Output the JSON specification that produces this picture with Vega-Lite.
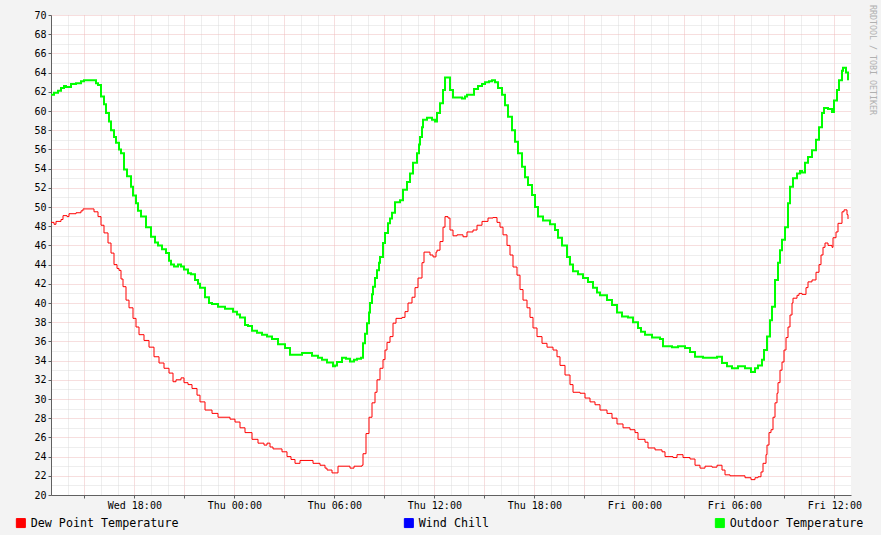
{
"$schema": "https://vega.github.io/schema/vega-lite/v6.json",
"width": 800, "height": 480,
"autosize": {"type": "none"},
"padding": {"left": 51, "top": 15, "right": 30, "bottom": 40},
"background": "#f3f3f3",
"config": {"view": {"fill": "#ffffff", "stroke": null}, "font": "DejaVu Sans Mono"},
"title": {"text": "RRDTOOL / TOBI OETIKER", "orient": "right", "anchor": "start", "fontSize": 8.3, "font": "DejaVu Sans Mono", "fontWeight": "normal", "color": "#b0b0b0", "offset": 5, "dx": -5},
"datasets": {"temps": [
{"s":"out","h":0,"v":61.7},{"s":"out","h":0.18,"v":61.9},{"s":"out","h":0.42,"v":62.1},{"s":"out","h":0.6,"v":62.4},{"s":"out","h":0.78,"v":62.6},{"s":"out","h":0.9,"v":62.5},{"s":"out","h":1.2,"v":62.8},{"s":"out","h":1.5,"v":62.9},{"s":"out","h":1.8,"v":63.1},{"s":"out","h":1.98,"v":63.2},{"s":"out","h":2.22,"v":63.2},{"s":"out","h":2.52,"v":63.2},{"s":"out","h":2.7,"v":62.9},{"s":"out","h":2.82,"v":62.7},{"s":"out","h":3.0,"v":61.5},{"s":"out","h":3.18,"v":60.7},{"s":"out","h":3.3,"v":59.8},{"s":"out","h":3.48,"v":58.9},{"s":"out","h":3.6,"v":58.0},{"s":"out","h":3.78,"v":57.3},{"s":"out","h":3.9,"v":56.7},{"s":"out","h":4.08,"v":56.0},{"s":"out","h":4.2,"v":55.6},{"s":"out","h":4.38,"v":53.9},{"s":"out","h":4.56,"v":53.2},{"s":"out","h":4.8,"v":52.1},{"s":"out","h":4.92,"v":51.2},{"s":"out","h":5.1,"v":50.4},{"s":"out","h":5.22,"v":49.6},{"s":"out","h":5.4,"v":49.0},{"s":"out","h":5.7,"v":47.9},{"s":"out","h":6.0,"v":46.9},{"s":"out","h":6.24,"v":46.3},{"s":"out","h":6.42,"v":46.0},{"s":"out","h":6.66,"v":45.6},{"s":"out","h":6.9,"v":45.2},{"s":"out","h":7.08,"v":44.4},{"s":"out","h":7.2,"v":44.0},{"s":"out","h":7.38,"v":43.8},{"s":"out","h":7.62,"v":44.0},{"s":"out","h":7.8,"v":43.8},{"s":"out","h":7.98,"v":43.5},{"s":"out","h":8.22,"v":43.1},{"s":"out","h":8.4,"v":43.0},{"s":"out","h":8.64,"v":42.4},{"s":"out","h":8.82,"v":42.0},{"s":"out","h":8.94,"v":41.6},{"s":"out","h":9.24,"v":40.6},{"s":"out","h":9.48,"v":40.0},{"s":"out","h":9.66,"v":39.9},{"s":"out","h":10.02,"v":39.6},{"s":"out","h":10.44,"v":39.4},{"s":"out","h":10.92,"v":39.1},{"s":"out","h":11.16,"v":38.8},{"s":"out","h":11.34,"v":38.5},{"s":"out","h":11.64,"v":37.7},{"s":"out","h":11.82,"v":37.6},{"s":"out","h":12.06,"v":37.1},{"s":"out","h":12.36,"v":36.9},{"s":"out","h":12.66,"v":36.7},{"s":"out","h":12.96,"v":36.5},{"s":"out","h":13.26,"v":36.25},{"s":"out","h":13.62,"v":35.7},{"s":"out","h":14.04,"v":35.3},{"s":"out","h":14.34,"v":34.6},{"s":"out","h":14.64,"v":34.6},{"s":"out","h":15.06,"v":34.8},{"s":"out","h":15.36,"v":34.8},{"s":"out","h":15.66,"v":34.5},{"s":"out","h":16.02,"v":34.3},{"s":"out","h":16.26,"v":34.1},{"s":"out","h":16.56,"v":33.8},{"s":"out","h":16.92,"v":33.4},{"s":"out","h":17.04,"v":33.5},{"s":"out","h":17.16,"v":33.85},{"s":"out","h":17.46,"v":34.3},{"s":"out","h":17.7,"v":34.2},{"s":"out","h":17.94,"v":33.9},{"s":"out","h":18.18,"v":34.1},{"s":"out","h":18.36,"v":34.2},{"s":"out","h":18.6,"v":34.3},{"s":"out","h":18.72,"v":35.8},{"s":"out","h":18.84,"v":36.8},{"s":"out","h":18.96,"v":37.9},{"s":"out","h":19.08,"v":39.0},{"s":"out","h":19.14,"v":40.0},{"s":"out","h":19.26,"v":40.9},{"s":"out","h":19.32,"v":41.7},{"s":"out","h":19.44,"v":42.6},{"s":"out","h":19.56,"v":43.4},{"s":"out","h":19.68,"v":44.2},{"s":"out","h":19.74,"v":44.8},{"s":"out","h":19.92,"v":46.25},{"s":"out","h":20.04,"v":47.3},{"s":"out","h":20.22,"v":48.3},{"s":"out","h":20.34,"v":48.8},{"s":"out","h":20.46,"v":49.4},{"s":"out","h":20.64,"v":50.5},{"s":"out","h":20.94,"v":50.7},{"s":"out","h":21.12,"v":51.8},{"s":"out","h":21.36,"v":52.6},{"s":"out","h":21.54,"v":53.5},{"s":"out","h":21.72,"v":54.6},{"s":"out","h":21.96,"v":55.6},{"s":"out","h":22.08,"v":56.5},{"s":"out","h":22.14,"v":57.3},{"s":"out","h":22.26,"v":58.3},{"s":"out","h":22.32,"v":59.1},{"s":"out","h":22.56,"v":59.3},{"s":"out","h":22.86,"v":59.1},{"s":"out","h":23.04,"v":58.9},{"s":"out","h":23.16,"v":59.8},{"s":"out","h":23.34,"v":60.8},{"s":"out","h":23.52,"v":62.2},{"s":"out","h":23.64,"v":63.5},{"s":"out","h":23.82,"v":63.5},{"s":"out","h":23.94,"v":62.2},{"s":"out","h":24.12,"v":61.4},{"s":"out","h":24.36,"v":61.4},{"s":"out","h":24.66,"v":61.3},{"s":"out","h":24.84,"v":61.5},{"s":"out","h":24.96,"v":61.7},{"s":"out","h":25.26,"v":61.7},{"s":"out","h":25.38,"v":62.3},{"s":"out","h":25.62,"v":62.6},{"s":"out","h":25.86,"v":62.8},{"s":"out","h":26.04,"v":63.0},{"s":"out","h":26.28,"v":63.1},{"s":"out","h":26.46,"v":63.2},{"s":"out","h":26.64,"v":63.0},{"s":"out","h":26.82,"v":62.4},{"s":"out","h":27.06,"v":61.7},{"s":"out","h":27.24,"v":60.6},{"s":"out","h":27.42,"v":59.4},{"s":"out","h":27.66,"v":58.0},{"s":"out","h":27.84,"v":56.8},{"s":"out","h":28.02,"v":55.6},{"s":"out","h":28.26,"v":54.2},{"s":"out","h":28.44,"v":53.1},{"s":"out","h":28.62,"v":52.3},{"s":"out","h":28.86,"v":51.25},{"s":"out","h":29.04,"v":50.0},{"s":"out","h":29.22,"v":49.0},{"s":"out","h":29.52,"v":48.6},{"s":"out","h":29.94,"v":48.2},{"s":"out","h":30.24,"v":47.6},{"s":"out","h":30.42,"v":46.8},{"s":"out","h":30.66,"v":46.0},{"s":"out","h":30.96,"v":44.8},{"s":"out","h":31.14,"v":44.0},{"s":"out","h":31.32,"v":43.3},{"s":"out","h":31.62,"v":43.0},{"s":"out","h":31.92,"v":42.6},{"s":"out","h":32.22,"v":42.2},{"s":"out","h":32.52,"v":41.6},{"s":"out","h":32.76,"v":41.1},{"s":"out","h":32.94,"v":40.8},{"s":"out","h":33.36,"v":40.3},{"s":"out","h":33.66,"v":39.8},{"s":"out","h":33.96,"v":39.0},{"s":"out","h":34.26,"v":38.6},{"s":"out","h":34.62,"v":38.5},{"s":"out","h":34.92,"v":38.0},{"s":"out","h":35.22,"v":37.4},{"s":"out","h":35.4,"v":37.0},{"s":"out","h":35.64,"v":36.7},{"s":"out","h":36.06,"v":36.4},{"s":"out","h":36.54,"v":36.25},{"s":"out","h":36.72,"v":35.5},{"s":"out","h":37.26,"v":35.4},{"s":"out","h":37.62,"v":35.5},{"s":"out","h":38.04,"v":35.3},{"s":"out","h":38.34,"v":34.9},{"s":"out","h":38.64,"v":34.4},{"s":"out","h":39.12,"v":34.3},{"s":"out","h":39.66,"v":34.3},{"s":"out","h":39.96,"v":34.4},{"s":"out","h":40.26,"v":33.75},{"s":"out","h":40.56,"v":33.4},{"s":"out","h":40.86,"v":33.2},{"s":"out","h":41.22,"v":33.4},{"s":"out","h":41.64,"v":33.2},{"s":"out","h":42.0,"v":32.8},{"s":"out","h":42.24,"v":33.2},{"s":"out","h":42.42,"v":33.5},{"s":"out","h":42.66,"v":34.1},{"s":"out","h":42.78,"v":35.1},{"s":"out","h":42.96,"v":36.5},{"s":"out","h":43.14,"v":38.2},{"s":"out","h":43.26,"v":39.6},{"s":"out","h":43.44,"v":42.4},{"s":"out","h":43.62,"v":44.2},{"s":"out","h":43.74,"v":45.5},{"s":"out","h":43.86,"v":46.6},{"s":"out","h":44.04,"v":47.9},{"s":"out","h":44.22,"v":50.4},{"s":"out","h":44.34,"v":52.1},{"s":"out","h":44.52,"v":53.0},{"s":"out","h":44.76,"v":53.5},{"s":"out","h":44.94,"v":53.75},{"s":"out","h":45.06,"v":53.6},{"s":"out","h":45.24,"v":54.6},{"s":"out","h":45.42,"v":55.2},{"s":"out","h":45.66,"v":55.9},{"s":"out","h":45.9,"v":57.0},{"s":"out","h":46.08,"v":58.3},{"s":"out","h":46.26,"v":59.8},{"s":"out","h":46.38,"v":60.3},{"s":"out","h":46.62,"v":60.2},{"s":"out","h":46.86,"v":59.9},{"s":"out","h":46.98,"v":61.1},{"s":"out","h":47.16,"v":62.2},{"s":"out","h":47.28,"v":63.2},{"s":"out","h":47.46,"v":64.2},{"s":"out","h":47.52,"v":64.5},{"s":"out","h":47.7,"v":64.0},{"s":"out","h":47.82,"v":63.2},
{"s":"dew","h":0,"v":48.4},{"s":"dew","h":0.18,"v":48.2},{"s":"dew","h":0.3,"v":48.5},{"s":"dew","h":0.6,"v":48.7},{"s":"dew","h":0.72,"v":49.1},{"s":"dew","h":0.96,"v":49.0},{"s":"dew","h":1.08,"v":49.3},{"s":"dew","h":1.5,"v":49.4},{"s":"dew","h":1.8,"v":49.6},{"s":"dew","h":1.92,"v":49.8},{"s":"dew","h":2.28,"v":49.8},{"s":"dew","h":2.58,"v":49.5},{"s":"dew","h":2.82,"v":49.0},{"s":"dew","h":3.0,"v":48.1},{"s":"dew","h":3.18,"v":47.3},{"s":"dew","h":3.42,"v":46.25},{"s":"dew","h":3.6,"v":45.2},{"s":"dew","h":3.78,"v":44.0},{"s":"dew","h":3.96,"v":43.6},{"s":"dew","h":4.08,"v":43.4},{"s":"dew","h":4.2,"v":42.5},{"s":"dew","h":4.32,"v":41.7},{"s":"dew","h":4.5,"v":40.3},{"s":"dew","h":4.68,"v":39.5},{"s":"dew","h":4.92,"v":38.4},{"s":"dew","h":5.1,"v":37.5},{"s":"dew","h":5.28,"v":36.7},{"s":"dew","h":5.58,"v":36.1},{"s":"dew","h":5.88,"v":35.4},{"s":"dew","h":6.18,"v":34.4},{"s":"dew","h":6.48,"v":33.75},{"s":"dew","h":6.78,"v":33.2},{"s":"dew","h":7.08,"v":32.7},{"s":"dew","h":7.32,"v":31.8},{"s":"dew","h":7.5,"v":32.0},{"s":"dew","h":7.8,"v":32.2},{"s":"dew","h":7.98,"v":31.7},{"s":"dew","h":8.22,"v":31.5},{"s":"dew","h":8.46,"v":31.1},{"s":"dew","h":8.76,"v":30.4},{"s":"dew","h":8.94,"v":29.7},{"s":"dew","h":9.24,"v":28.85},{"s":"dew","h":9.66,"v":28.5},{"s":"dew","h":10.02,"v":28.1},{"s":"dew","h":10.32,"v":28.1},{"s":"dew","h":10.74,"v":27.9},{"s":"dew","h":11.04,"v":27.6},{"s":"dew","h":11.34,"v":27.0},{"s":"dew","h":11.64,"v":26.5},{"s":"dew","h":12.06,"v":25.8},{"s":"dew","h":12.42,"v":25.4},{"s":"dew","h":12.78,"v":25.2},{"s":"dew","h":12.96,"v":25.4},{"s":"dew","h":13.14,"v":25.0},{"s":"dew","h":13.32,"v":24.8},{"s":"dew","h":13.86,"v":24.5},{"s":"dew","h":14.16,"v":24.0},{"s":"dew","h":14.4,"v":23.7},{"s":"dew","h":14.64,"v":23.3},{"s":"dew","h":14.94,"v":23.6},{"s":"dew","h":15.36,"v":23.6},{"s":"dew","h":15.72,"v":23.3},{"s":"dew","h":16.14,"v":23.1},{"s":"dew","h":16.44,"v":22.8},{"s":"dew","h":16.56,"v":22.6},{"s":"dew","h":16.86,"v":22.3},{"s":"dew","h":17.16,"v":22.3},{"s":"dew","h":17.22,"v":23.0},{"s":"dew","h":17.64,"v":23.0},{"s":"dew","h":17.94,"v":22.8},{"s":"dew","h":18.18,"v":23.0},{"s":"dew","h":18.36,"v":23.0},{"s":"dew","h":18.66,"v":23.1},{"s":"dew","h":18.72,"v":24.3},{"s":"dew","h":18.9,"v":26.4},{"s":"dew","h":19.08,"v":28.1},{"s":"dew","h":19.26,"v":29.6},{"s":"dew","h":19.44,"v":30.7},{"s":"dew","h":19.56,"v":32.0},{"s":"dew","h":19.74,"v":33.2},{"s":"dew","h":19.92,"v":34.1},{"s":"dew","h":20.04,"v":35.1},{"s":"dew","h":20.16,"v":35.9},{"s":"dew","h":20.34,"v":36.5},{"s":"dew","h":20.52,"v":37.9},{"s":"dew","h":20.7,"v":38.4},{"s":"dew","h":21.06,"v":38.5},{"s":"dew","h":21.24,"v":39.1},{"s":"dew","h":21.42,"v":40.0},{"s":"dew","h":21.66,"v":40.6},{"s":"dew","h":21.84,"v":41.6},{"s":"dew","h":22.02,"v":42.6},{"s":"dew","h":22.26,"v":44.2},{"s":"dew","h":22.38,"v":45.3},{"s":"dew","h":22.56,"v":45.3},{"s":"dew","h":22.74,"v":45.0},{"s":"dew","h":22.92,"v":44.8},{"s":"dew","h":23.1,"v":45.3},{"s":"dew","h":23.16,"v":45.5},{"s":"dew","h":23.34,"v":46.4},{"s":"dew","h":23.52,"v":47.9},{"s":"dew","h":23.64,"v":49.0},{"s":"dew","h":23.82,"v":48.85},{"s":"dew","h":23.94,"v":47.6},{"s":"dew","h":24.12,"v":47.0},{"s":"dew","h":24.36,"v":47.1},{"s":"dew","h":24.54,"v":47.1},{"s":"dew","h":24.72,"v":46.9},{"s":"dew","h":24.96,"v":47.4},{"s":"dew","h":25.32,"v":47.6},{"s":"dew","h":25.56,"v":48.1},{"s":"dew","h":25.86,"v":48.5},{"s":"dew","h":26.22,"v":48.85},{"s":"dew","h":26.52,"v":48.9},{"s":"dew","h":26.76,"v":48.4},{"s":"dew","h":26.94,"v":47.9},{"s":"dew","h":27.12,"v":47.1},{"s":"dew","h":27.36,"v":46.0},{"s":"dew","h":27.54,"v":45.0},{"s":"dew","h":27.72,"v":43.75},{"s":"dew","h":27.96,"v":42.9},{"s":"dew","h":28.14,"v":41.4},{"s":"dew","h":28.32,"v":40.3},{"s":"dew","h":28.56,"v":39.5},{"s":"dew","h":28.74,"v":38.5},{"s":"dew","h":28.92,"v":37.4},{"s":"dew","h":29.16,"v":36.5},{"s":"dew","h":29.46,"v":35.8},{"s":"dew","h":29.76,"v":35.4},{"s":"dew","h":30.12,"v":35.1},{"s":"dew","h":30.36,"v":34.4},{"s":"dew","h":30.54,"v":33.5},{"s":"dew","h":30.84,"v":32.5},{"s":"dew","h":31.14,"v":31.5},{"s":"dew","h":31.32,"v":30.7},{"s":"dew","h":31.74,"v":30.6},{"s":"dew","h":32.04,"v":30.1},{"s":"dew","h":32.34,"v":29.7},{"s":"dew","h":32.64,"v":29.4},{"s":"dew","h":32.94,"v":28.85},{"s":"dew","h":33.36,"v":28.5},{"s":"dew","h":33.66,"v":28.0},{"s":"dew","h":33.96,"v":27.4},{"s":"dew","h":34.32,"v":27.0},{"s":"dew","h":34.74,"v":26.8},{"s":"dew","h":35.04,"v":26.5},{"s":"dew","h":35.22,"v":25.8},{"s":"dew","h":35.64,"v":25.5},{"s":"dew","h":35.82,"v":24.9},{"s":"dew","h":36.24,"v":24.7},{"s":"dew","h":36.66,"v":24.5},{"s":"dew","h":36.84,"v":24.0},{"s":"dew","h":37.32,"v":23.9},{"s":"dew","h":37.56,"v":24.2},{"s":"dew","h":37.92,"v":23.9},{"s":"dew","h":38.34,"v":23.75},{"s":"dew","h":38.64,"v":23.1},{"s":"dew","h":38.94,"v":22.8},{"s":"dew","h":39.24,"v":23.0},{"s":"dew","h":39.66,"v":22.9},{"s":"dew","h":39.96,"v":23.1},{"s":"dew","h":40.26,"v":22.6},{"s":"dew","h":40.44,"v":22.1},{"s":"dew","h":40.74,"v":22.0},{"s":"dew","h":41.22,"v":22.0},{"s":"dew","h":41.64,"v":21.8},{"s":"dew","h":42.0,"v":21.6},{"s":"dew","h":42.24,"v":21.8},{"s":"dew","h":42.42,"v":21.9},{"s":"dew","h":42.6,"v":22.4},{"s":"dew","h":42.72,"v":23.3},{"s":"dew","h":42.9,"v":24.2},{"s":"dew","h":42.96,"v":25.2},{"s":"dew","h":43.08,"v":26.5},{"s":"dew","h":43.2,"v":26.8},{"s":"dew","h":43.32,"v":28.1},{"s":"dew","h":43.44,"v":29.6},{"s":"dew","h":43.56,"v":30.6},{"s":"dew","h":43.62,"v":31.7},{"s":"dew","h":43.74,"v":33.0},{"s":"dew","h":43.86,"v":33.85},{"s":"dew","h":43.98,"v":35.1},{"s":"dew","h":44.1,"v":36.4},{"s":"dew","h":44.22,"v":37.5},{"s":"dew","h":44.34,"v":38.75},{"s":"dew","h":44.46,"v":40.0},{"s":"dew","h":44.52,"v":40.5},{"s":"dew","h":44.76,"v":40.8},{"s":"dew","h":44.88,"v":41.0},{"s":"dew","h":45.06,"v":40.9},{"s":"dew","h":45.3,"v":41.6},{"s":"dew","h":45.42,"v":42.2},{"s":"dew","h":45.66,"v":42.4},{"s":"dew","h":45.9,"v":43.2},{"s":"dew","h":46.08,"v":44.0},{"s":"dew","h":46.2,"v":45.0},{"s":"dew","h":46.32,"v":45.8},{"s":"dew","h":46.44,"v":46.25},{"s":"dew","h":46.62,"v":46.0},{"s":"dew","h":46.86,"v":45.8},{"s":"dew","h":46.92,"v":46.8},{"s":"dew","h":47.1,"v":47.4},{"s":"dew","h":47.22,"v":48.3},{"s":"dew","h":47.46,"v":49.5},{"s":"dew","h":47.58,"v":49.7},{"s":"dew","h":47.76,"v":49.2},{"s":"dew","h":47.82,"v":48.75}
]},
"data": {"name": "temps"},
"encoding": {
  "x": {"field": "h", "type": "quantitative", "scale": {"domain": [0, 48], "nice": false, "zero": false},
    "axis": {"title": null, "values": [1,2,3,4,5,6,7,8,9,10,11,12,13,14,15,16,17,18,19,20,21,22,23,24,25,26,27,28,29,30,31,32,33,34,35,36,37,38,39,40,41,42,43,44,45,46,47],
      "grid": true, "gridDash": [1, 1], "gridWidth": 1,
      "gridColor": {"condition": {"test": "datum.value % 3 === 2", "value": "#efbcbc"}, "value": "#dcdcdc"},
      "domainColor": "#606060", "tickColor": "#606060", "tickSize": 3,
      "tickOpacity": {"condition": {"test": "datum.value % 3 === 2", "value": 1}, "value": 0},
      "labelExpr": "datum.value % 6 === 5 ? ['Wed 18:00','Thu 00:00','Thu 06:00','Thu 12:00','Thu 18:00','Fri 00:00','Fri 06:00','Fri 12:00'][(datum.value - 5) / 6] : ''",
      "labelFont": "DejaVu Sans Mono", "labelFontSize": 10, "labelColor": "#000000", "labelPadding": 2,
      "labelOverlap": false, "labelFlush": false, "labelBound": false}},
  "y": {"field": "v", "type": "quantitative", "scale": {"domain": [20, 70], "nice": false, "zero": false},
    "axis": {"title": null, "values": [20,21,22,23,24,25,26,27,28,29,30,31,32,33,34,35,36,37,38,39,40,41,42,43,44,45,46,47,48,49,50,51,52,53,54,55,56,57,58,59,60,61,62,63,64,65,66,67,68,69,70],
      "grid": true, "gridDash": [1, 1], "gridWidth": 1,
      "gridColor": {"condition": {"test": "datum.value % 2 === 0", "value": "#efbcbc"}, "value": "#dcdcdc"},
      "domainColor": "#606060", "tickColor": "#606060", "tickSize": 3,
      "tickOpacity": {"condition": {"test": "datum.value % 2 === 0", "value": 1}, "value": 0},
      "labelExpr": "datum.value % 2 === 0 ? '' + datum.value : ''",
      "labelFont": "DejaVu Sans Mono", "labelFontSize": 10, "labelColor": "#000000", "labelPadding": 2,
      "labelOverlap": false, "labelFlush": false, "labelBound": false}}
},
"layer": [
  {"transform": [{"filter": "datum.s === 'dew'"}],
   "mark": {"type": "line", "interpolate": "step-after", "strokeWidth": 1},
   "encoding": {"color": {"field": "s", "type": "nominal",
     "scale": {"domain": ["dew", "wc", "out"], "range": ["#ff0000", "#0000ff", "#00ff00"]},
     "legend": {"title": null, "orient": "none", "legendX": -36, "legendY": 502, "direction": "horizontal",
       "columnPadding": 223, "symbolType": "square", "symbolSize": 81, "symbolStrokeWidth": 1,
       "labelFont": "DejaVu Sans Mono", "labelFontSize": 11.7, "labelColor": "#000000", "labelOffset": 4,
       "labelExpr": "datum.value === 'dew' ? 'Dew Point Temperature' : (datum.value === 'wc' ? 'Wind Chill' : 'Outdoor Temperature')",
       "encode": {"symbols": {"update": {"fill": {"scale": "color", "field": "value"}, "stroke": {"value": "#000000"}, "strokeWidth": {"value": 1}, "opacity": {"value": 1}}}}}}}},
  {"transform": [{"filter": "datum.s === 'out'"}],
   "mark": {"type": "line", "interpolate": "step-after", "strokeWidth": 2},
   "encoding": {"color": {"field": "s", "type": "nominal",
     "scale": {"domain": ["dew", "wc", "out"], "range": ["#ff0000", "#0000ff", "#00ff00"]}}}},
  {"data": {"values": [{}]}, "mark": {"type": "rule", "color": "#606060", "strokeWidth": 1},
   "encoding": {"x": {"datum": 0}, "y": {"datum": 70}, "y2": {"datum": 70.5}}},
  {"data": {"values": [{}]}, "mark": {"type": "rule", "color": "#606060", "strokeWidth": 1},
   "encoding": {"x": {"datum": 48}, "x2": {"datum": 48.25}, "y": {"datum": 20}}},
  {"data": {"values": [{}]}, "mark": {"type": "point", "shape": "triangle-up", "filled": true, "color": "#900000", "size": 22, "opacity": 1},
   "encoding": {"x": {"datum": 0}, "y": {"datum": 70.55}}},
  {"data": {"values": [{}]}, "mark": {"type": "point", "shape": "triangle-right", "filled": true, "color": "#900000", "size": 22, "opacity": 1},
   "encoding": {"x": {"datum": 48.3}, "y": {"datum": 20}}}
]
}
